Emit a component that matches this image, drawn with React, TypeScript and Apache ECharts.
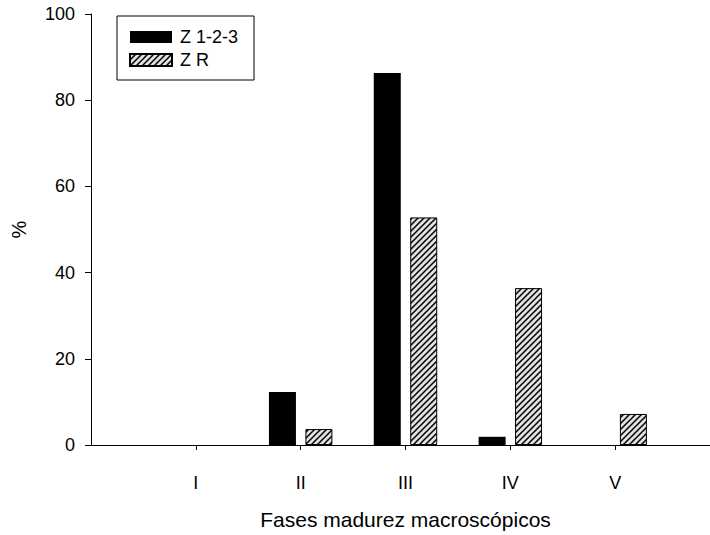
import React, { useEffect, useRef } from "react";
import * as echarts from "echarts";

const categories = ["", "I", "II", "III", "IV", "V", ""];
const seriesNames = ["Z 1-2-3", "Z R"];
const z123Values = [null, 0, 12.3, 86.3, 1.9, 0, null];
const zrValues = [null, 0, 3.7, 52.8, 36.4, 7.2, null];
const yTicks = { min: 0, max: 100, interval: 20 };
const xName = "Fases madurez macroscópicos";
const yName = "%";

function makeHatch(): HTMLCanvasElement {
  const c = document.createElement("canvas");
  const s = 6;
  c.width = s;
  c.height = s;
  const ctx = c.getContext("2d")!;
  ctx.fillStyle = "#e2e2e2";
  ctx.fillRect(0, 0, s, s);
  ctx.strokeStyle = "#000";
  ctx.lineWidth = 1.5;
  ctx.beginPath();
  ctx.moveTo(0, s);
  ctx.lineTo(s, 0);
  ctx.moveTo(-1, 1);
  ctx.lineTo(1, -1);
  ctx.moveTo(s - 1, s + 1);
  ctx.lineTo(s + 1, s - 1);
  ctx.stroke();
  return c;
}

const clean = (arr: (number | null)[]) => arr.map((v) => (v === null || v === 0 ? "-" : v));

export default function App() {
  const ref = useRef<HTMLDivElement>(null);
  useEffect(() => {
    if (!ref.current) return;
    const chart = echarts.init(ref.current, null, { renderer: "svg" });
    const font = "'Liberation Sans', Arial, sans-serif";
    const hatch = makeHatch();
    chart.setOption({
      animation: false,
      backgroundColor: "#fff",
      textStyle: { fontFamily: font },
      grid: { left: 91, top: 14, width: 629, height: 431, outerBoundsMode: "none", containLabel: false },
      legend: {
        orient: "vertical",
        left: 117,
        top: 16,
        padding: [12, 16, 11, 12],
        itemGap: 5,
        itemWidth: 42,
        itemHeight: 12,
        borderColor: "#000",
        borderWidth: 1,
        icon: "rect",
        textStyle: { fontSize: 18, color: "#000", fontFamily: font, padding: [0, 0, 0, 3] },
        data: seriesNames,
      },
      xAxis: {
        type: "category",
        data: categories,
        boundaryGap: false,
        offset: 16,
        axisLine: { lineStyle: { color: "#000", width: 1 } },
        axisTick: {
          length: 5,
          interval: (i: number) => i >= 1 && i <= categories.length - 2,
          lineStyle: { color: "#000" },
        },
        axisLabel: { margin: 13, fontSize: 18, color: "#000", fontFamily: font, interval: 0 },
        splitLine: { show: false },
        name: xName,
        nameLocation: "middle",
        nameGap: 48,
        nameTextStyle: { fontSize: 21, color: "#000", fontFamily: font },
      },
      yAxis: {
        type: "value",
        min: yTicks.min,
        max: yTicks.max,
        interval: yTicks.interval,
        axisLine: { show: true, lineStyle: { color: "#000", width: 1 } },
        axisTick: { show: true, length: 6, lineStyle: { color: "#000" } },
        axisLabel: { margin: 16, fontSize: 18, color: "#000", fontFamily: font },
        splitLine: { show: false },
        name: yName,
        nameLocation: "middle",
        nameGap: 62,
        nameRotate: 90,
        nameTextStyle: { fontSize: 20, color: "#000", fontFamily: font },
      },
      series: [
        {
          name: seriesNames[0],
          type: "bar",
          data: clean(z123Values),
          barWidth: 27,
          barGap: "35%",
          itemStyle: { color: "#000", borderColor: "#000", borderWidth: 0 },
        },
        {
          name: seriesNames[1],
          type: "bar",
          data: clean(zrValues),
          barWidth: 27,
          barGap: "35%",
          itemStyle: {
            color: { image: hatch, repeat: "repeat" },
            borderColor: "#000",
            borderWidth: 1,
          },
        },
      ],
    });
    return () => chart.dispose();
  }, []);
  return (
    <div
      ref={ref}
      style={{ position: "fixed", left: 0, top: 0, width: 710, height: 535 }}
    />
  );
}
